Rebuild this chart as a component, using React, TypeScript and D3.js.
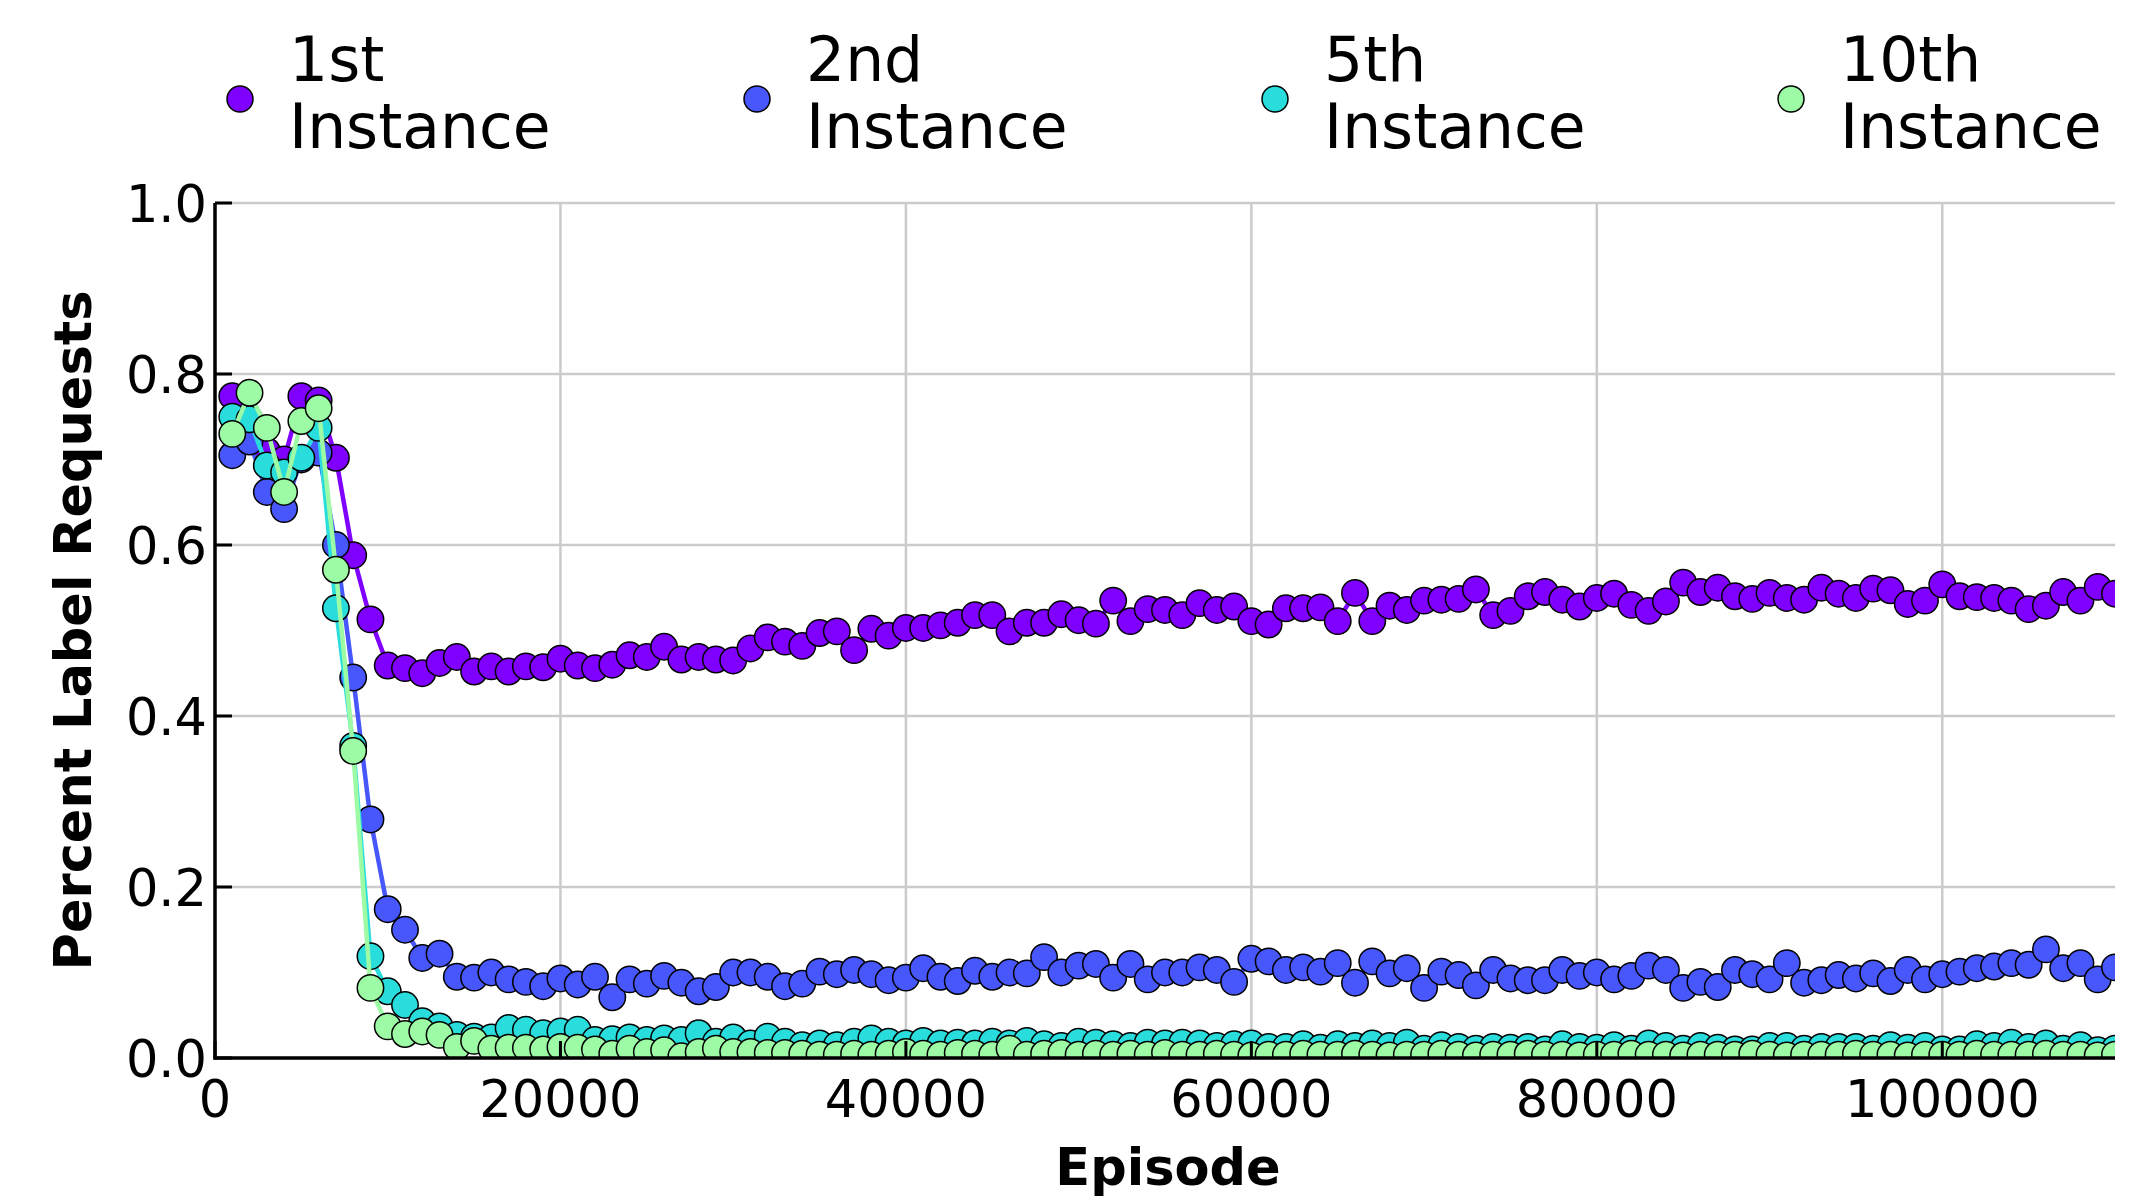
import React from 'react';
import * as d3 from 'd3';

// Episode grid: one evaluation every 1000 episodes, from 1000 to 110000
const episodes: number[] = d3.range(1000, 110001, 1000);

const seriesNames = ['1st\nInstance', '2nd\nInstance', '5th\nInstance', '10th\nInstance'];
const seriesColors = ['#8000ff', '#4757fb', '#2adddd', '#9cfba4'];

const first: number[] = [
  0.774, 0.730, 0.710, 0.700, 0.774, 0.769, 0.702, 0.588, 0.513, 0.459,
  0.456, 0.450, 0.462, 0.469, 0.452, 0.458, 0.452, 0.458, 0.457, 0.467,
  0.459, 0.456, 0.460, 0.471, 0.469, 0.481, 0.466, 0.469, 0.466, 0.465,
  0.479, 0.492, 0.487, 0.482, 0.497, 0.499, 0.477, 0.502, 0.494, 0.503,
  0.503, 0.506, 0.509, 0.518, 0.518, 0.499, 0.509, 0.509, 0.519, 0.512,
  0.508, 0.535, 0.511, 0.525, 0.524, 0.518, 0.532, 0.524, 0.528, 0.511,
  0.507, 0.526, 0.526, 0.527, 0.511, 0.544, 0.511, 0.529, 0.524, 0.535,
  0.536, 0.537, 0.548, 0.518, 0.523, 0.540, 0.545, 0.536, 0.528, 0.538,
  0.543, 0.530, 0.523, 0.534, 0.556, 0.545, 0.550, 0.540, 0.537, 0.544,
  0.538, 0.536, 0.550, 0.543, 0.538, 0.549, 0.547, 0.531, 0.535, 0.554,
  0.540, 0.539, 0.538, 0.535, 0.525, 0.529, 0.545, 0.535, 0.551, 0.543,
];

const second: number[] = [
  0.705, 0.721, 0.662, 0.642, 0.700, 0.708, 0.600, 0.445, 0.279, 0.174,
  0.150, 0.117, 0.122, 0.095, 0.094, 0.100, 0.092, 0.089, 0.084, 0.093,
  0.086, 0.095, 0.071, 0.092, 0.087, 0.096, 0.088, 0.078, 0.083, 0.100,
  0.100, 0.095, 0.084, 0.087, 0.101, 0.098, 0.103, 0.098, 0.091, 0.094,
  0.105, 0.095, 0.090, 0.102, 0.095, 0.100, 0.099, 0.118, 0.100, 0.108,
  0.110, 0.094, 0.110, 0.092, 0.100, 0.100, 0.106, 0.103, 0.089, 0.116,
  0.113, 0.103, 0.106, 0.101, 0.111, 0.088, 0.113, 0.099, 0.105, 0.082,
  0.101, 0.097, 0.085, 0.103, 0.093, 0.091, 0.091, 0.103, 0.096, 0.100,
  0.092, 0.096, 0.108, 0.103, 0.082, 0.089, 0.083, 0.103, 0.098, 0.092,
  0.111, 0.088, 0.091, 0.097, 0.093, 0.099, 0.090, 0.103, 0.092, 0.098,
  0.101, 0.105, 0.107, 0.111, 0.109, 0.127, 0.105, 0.111, 0.092, 0.106,
];

const fifth: number[] = [
  0.750, 0.747, 0.693, 0.685, 0.702, 0.737, 0.526, 0.365, 0.119, 0.078,
  0.062, 0.043, 0.037, 0.027, 0.025, 0.024, 0.035, 0.033, 0.029, 0.031,
  0.033, 0.021, 0.022, 0.024, 0.021, 0.023, 0.021, 0.029, 0.019, 0.024,
  0.017, 0.025, 0.019, 0.015, 0.017, 0.015, 0.019, 0.023, 0.019, 0.017,
  0.020, 0.017, 0.018, 0.017, 0.019, 0.017, 0.020, 0.016, 0.014, 0.019,
  0.018, 0.016, 0.014, 0.018, 0.017, 0.018, 0.017, 0.014, 0.016, 0.017,
  0.013, 0.013, 0.016, 0.012, 0.016, 0.014, 0.017, 0.014, 0.018, 0.011,
  0.015, 0.013, 0.011, 0.013, 0.012, 0.013, 0.010, 0.016, 0.013, 0.012,
  0.015, 0.011, 0.017, 0.014, 0.011, 0.014, 0.012, 0.010, 0.010, 0.014,
  0.014, 0.011, 0.013, 0.013, 0.013, 0.011, 0.015, 0.012, 0.014, 0.010,
  0.010, 0.016, 0.014, 0.018, 0.013, 0.017, 0.011, 0.015, 0.009, 0.011,
];

const tenth: number[] = [
  0.730, 0.778, 0.737, 0.662, 0.745, 0.760, 0.571, 0.359, 0.082, 0.037,
  0.028, 0.031, 0.027, 0.013, 0.020, 0.011, 0.012, 0.012, 0.010, 0.013,
  0.012, 0.010, 0.005, 0.011, 0.007, 0.009, 0.002, 0.007, 0.011, 0.007,
  0.007, 0.006, 0.006, 0.005, 0.004, 0.004, 0.005, 0.004, 0.005, 0.007,
  0.005, 0.004, 0.006, 0.005, 0.004, 0.011, 0.004, 0.005, 0.006, 0.004,
  0.005, 0.004, 0.005, 0.004, 0.006, 0.004, 0.004, 0.005, 0.004, 0.003,
  0.004, 0.004, 0.005, 0.004, 0.004, 0.005, 0.004, 0.003, 0.004, 0.004,
  0.005, 0.004, 0.003, 0.004, 0.004, 0.005, 0.004, 0.004, 0.003, 0.004,
  0.004, 0.005, 0.004, 0.004, 0.003, 0.004, 0.004, 0.004, 0.005, 0.004,
  0.003, 0.004, 0.004, 0.004, 0.005, 0.004, 0.004, 0.003, 0.004, 0.004,
  0.004, 0.005, 0.004, 0.004, 0.004, 0.005, 0.004, 0.004, 0.003, 0.004,
];

const seriesValues = [first, second, fifth, tenth];

const xTicks = [0, 20000, 40000, 60000, 80000, 100000];
const yTicks = [0.0, 0.2, 0.4, 0.6, 0.8, 1.0];
const xTitle = 'Episode';
const yTitle = 'Percent Label Requests';

const W = 2147;
const H = 1197;
const M = { left: 215, right: 2115, top: 203, bottom: 1058 };
const FONT = 'DejaVu Sans, Verdana, sans-serif';

export default function App() {
  const x = d3.scaleLinear().domain([0, 110000]).range([M.left, M.right]);
  const y = d3.scaleLinear().domain([0, 1]).range([M.bottom, M.top]);
  const line = d3
    .line<number>()
    .x((_, i) => x(episodes[i]))
    .y((d) => y(d));

  const legendX = [240, 757, 1275, 1791];

  return (
    <svg
      width={W}
      height={H}
      viewBox={`0 0 ${W} ${H}`}
      style={{ position: 'absolute', left: 0, top: 0, background: '#fff' }}
      fontFamily={FONT}
    >
      <rect x={0} y={0} width={W} height={H} fill="#fff" />
      <defs>
        <clipPath id="plotclip">
          <rect x={M.left} y={M.top} width={M.right - M.left} height={M.bottom - M.top} />
        </clipPath>
      </defs>

      {/* grid */}
      {xTicks.map((t) => (
        <line key={'gx' + t} x1={x(t)} x2={x(t)} y1={M.top} y2={M.bottom} stroke="#cbcbcb" strokeWidth={2.5} />
      ))}
      {yTicks.map((t) => (
        <line key={'gy' + t} x1={M.left} x2={M.right} y1={y(t)} y2={y(t)} stroke="#cbcbcb" strokeWidth={2.5} />
      ))}

      {/* series */}
      <g clipPath="url(#plotclip)">
        {seriesValues.map((vals, si) => (
          <g key={'s' + si}>
            <path d={line(vals) || ''} fill="none" stroke={seriesColors[si]} strokeWidth={4.5} />
            {vals.map((v, i) => (
              <circle
                key={i}
                cx={x(episodes[i])}
                cy={y(v)}
                r={13.2}
                fill={seriesColors[si]}
                stroke="#000"
                strokeWidth={1.5}
              />
            ))}
          </g>
        ))}
      </g>

      {/* spines */}
      <line x1={M.left} x2={M.left} y1={M.top} y2={M.bottom + 1.5} stroke="#000" strokeWidth={3.5} />
      <line x1={M.left - 1.5} x2={M.right} y1={M.bottom} y2={M.bottom} stroke="#000" strokeWidth={3.5} />

      {/* y ticks */}
      {yTicks.map((t) => (
        <g key={'ty' + t}>
          <line x1={M.left} x2={M.left + 17} y1={y(t)} y2={y(t)} stroke="#000" strokeWidth={3} />
          <text x={207} y={y(t) + 18.5} textAnchor="end" fontSize={51} fill="#000">
            {t.toFixed(1)}
          </text>
        </g>
      ))}
      {/* x ticks */}
      {xTicks.map((t) => (
        <g key={'tx' + t}>
          <line x1={x(t)} x2={x(t)} y1={M.bottom} y2={M.bottom - 17} stroke="#000" strokeWidth={3} />
          <text x={x(t)} y={1117} textAnchor="middle" fontSize={51} fill="#000">
            {String(t)}
          </text>
        </g>
      ))}

      {/* axis titles */}
      <text x={(M.left + M.right) / 2 + 3} y={1185} textAnchor="middle" fontSize={51} fontWeight="bold" fill="#000">
        {xTitle}
      </text>
      <text
        transform={`translate(91, ${(M.top + M.bottom) / 2}) rotate(-90)`}
        textAnchor="middle"
        fontSize={51}
        fontWeight="bold"
        fill="#000"
      >
        {yTitle}
      </text>

      {/* legend */}
      {seriesNames.map((name, i) => {
        const lines = name.split('\n');
        return (
          <g key={'lg' + i}>
            <circle cx={legendX[i]} cy={99} r={13} fill={seriesColors[i]} stroke="#000" strokeWidth={1.5} />
            <text x={legendX[i] + 49} fontSize={61.5} fill="#000">
              <tspan x={legendX[i] + 49} y={81}>
                {lines[0]}
              </tspan>
              <tspan x={legendX[i] + 49} y={148}>
                {lines[1]}
              </tspan>
            </text>
          </g>
        );
      })}
    </svg>
  );
}
